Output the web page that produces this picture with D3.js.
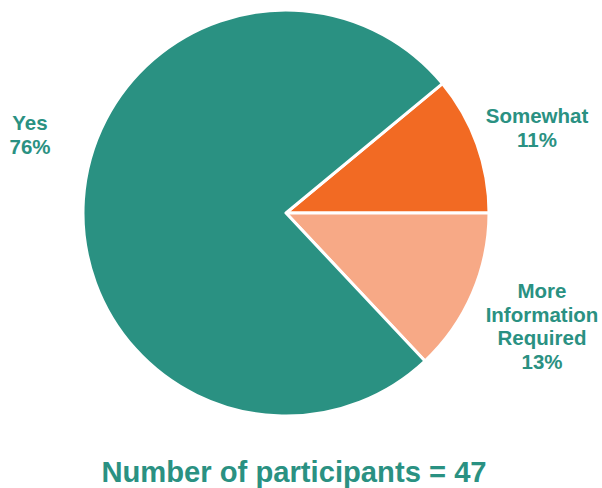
<!DOCTYPE html>
<html>
<head>
<meta charset="utf-8">
<script src="https://cdn.jsdelivr.net/npm/d3@7"></script>
<style>
  html, body { margin: 0; padding: 0; background: #fff; }
  svg { display: block; }
  text { font-family: "Liberation Sans", Arial, Helvetica, sans-serif; font-weight: bold; }
</style>
</head>
<body>
<svg id="chart" width="602" height="488"></svg>
<script>
// Survey responses (share of participants, %)
const categories = ["Somewhat", "More Information Required", "Yes"];
const values = [11, 13, 76];
const labelLines = [["Somewhat", "11%"], ["More", "Information", "Required", "13%"], ["Yes", "76%"]];
const participants = 47;

const colors = ["#f26a23", "#f7a986", "#2a9182"];
const textColor = "#2a9182";

const svg = d3.select("#chart");
const cx = 286, cy = 213, radius = 203;

// Start so that the first slice ends exactly at 3 o'clock
const total = d3.sum(values);
const start = Math.PI / 2 - (values[0] / total) * 2 * Math.PI;

const pie = d3.pie().sort(null).value(d => d)
  .startAngle(start).endAngle(start + 2 * Math.PI);
const arc = d3.arc().innerRadius(0).outerRadius(radius);

const g = svg.append("g").attr("transform", `translate(${cx},${cy})`);
g.selectAll("path")
  .data(pie(values))
  .join("path")
  .attr("d", arc)
  .attr("fill", (d, i) => colors[i])
  .attr("stroke", "#fff")
  .attr("stroke-width", 3)
  .attr("stroke-linejoin", "round");

// Label blocks: centre x and first baseline for each slice
const labelPos = [
  { x: 537, y: 123 },
  { x: 542, y: 298 },
  { x: 30, y: 130 }
];
const lineH = 23.5;

labelLines.forEach((lines, i) => {
  const t = svg.append("text")
    .attr("text-anchor", "middle")
    .attr("fill", textColor)
    .attr("font-size", 20.5);
  lines.forEach((ln, j) => {
    t.append("tspan")
      .attr("x", labelPos[i].x)
      .attr("y", labelPos[i].y + j * lineH)
      .text(ln);
  });
});

svg.append("text")
  .attr("x", 294)
  .attr("y", 482)
  .attr("text-anchor", "middle")
  .attr("fill", textColor)
  .attr("font-size", 29.2)
  .text(`Number of participants = ${participants}`);
</script>
</body>
</html>
